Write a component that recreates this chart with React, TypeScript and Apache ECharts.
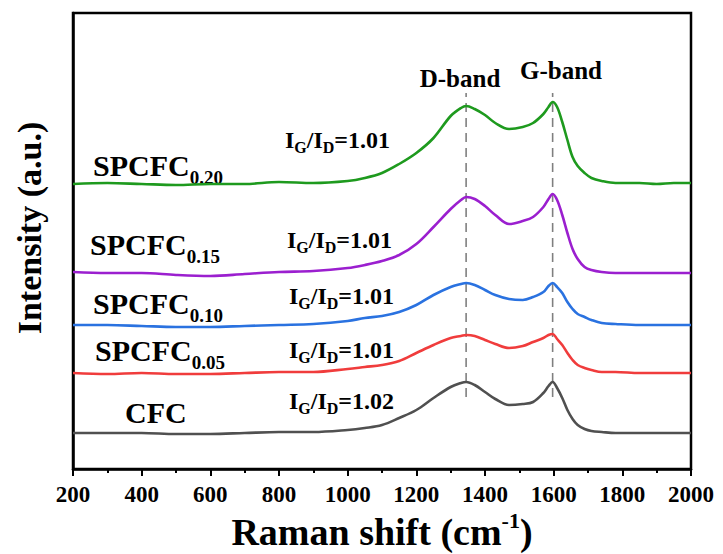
import React, { useEffect, useRef } from "react";
import * as echarts from "echarts";

// ---- data ----
const ramanShift = [
  200, 300, 400, 500, 600, 700, 800, 900, 1000, 1050, 1100, 1150, 1200, 1250, 1300, 1330, 1345, 1370, 1400,
  1430, 1470, 1510, 1540, 1570, 1585, 1597, 1610, 1625, 1640, 1655, 1670, 1690, 1710, 1740, 1780, 1850,
  1900, 1950, 2000,
];
const cfc = [
  36, 36, 36, 35, 35, 36, 37, 37, 39, 41, 44, 51, 59, 71, 82, 86, 87, 84, 77, 70, 64, 65, 67, 76, 83, 87, 81,
  71, 59, 50, 44, 40, 38, 37, 36, 36, 36, 36, 36,
];
const spcfc005 = [
  96, 95, 96, 95, 95, 96, 97, 97, 100, 102, 104, 108, 116, 124, 131, 133, 134, 133, 129, 125, 121, 123, 127,
  131, 134, 135, 130, 124, 116, 109, 104, 101, 99, 97, 97, 96, 96, 96, 96,
];
const spcfc010 = [
  144, 144, 143, 142, 142, 143, 144, 145, 148, 151, 153, 157, 164, 174, 182, 185, 186, 184, 179, 174, 170, 169,
  172, 177, 183, 186, 182, 176, 167, 160, 155, 152, 149, 146, 145, 144, 144, 144, 144,
];
const spcfc015 = [
  197, 196, 196, 194, 193, 195, 197, 198, 201, 204, 208, 214, 225, 242, 260, 269, 272, 270, 263, 254, 245, 248,
  252, 262, 270, 275, 269, 254, 236, 220, 210, 202, 199, 197, 196, 196, 196, 196, 196,
];
const spcfc020 = [
  285, 286, 285, 284, 285, 285, 287, 286, 288, 291, 296, 305, 316, 331, 353, 361, 363, 360, 354, 346, 340, 342,
  346, 355, 362, 367, 362, 347, 329, 312, 303, 296, 291, 288, 286, 286, 285, 286, 286,
];
const seriesValues = [cfc, spcfc005, spcfc010, spcfc015, spcfc020];
const sampleNames = ["CFC", "SPCFC", "SPCFC", "SPCFC", "SPCFC"];
const sampleSubs = ["", "0.05", "0.10", "0.15", "0.20"];
const ratioValues = ["1.02", "1.01", "1.01", "1.01", "1.01"];
const seriesColors = ["#505050", "#f03c3c", "#2a72e0", "#9b1fcf", "#1e9a1e"];
const bandNames = ["D-band", "G-band"];
const bandPositions = [1345, 1597];
const bandLineRange = [72, 376];
const xMin = 200;
const xMax = 2000;
const xInterval = 200;
const yMin = 0;
const yMax = 456;

const FONT = "'Liberation Serif', 'Times New Roman', serif";

let measureCtx: CanvasRenderingContext2D | null = null;
function textWidth(text: string, size: number): number {
  if (!measureCtx) measureCtx = document.createElement("canvas").getContext("2d");
  if (!measureCtx) return text.length * size * 0.5;
  measureCtx.font = `bold ${size}px ${FONT}`;
  return measureCtx.measureText(text).width;
}

type Part = [string, "n" | "s" | "p"];

function partsWidth(parts: Part[], size: number, small: number) {
  return parts.reduce((w, [t, k]) => w + textWidth(t, k === "n" ? size : small), 0);
}

function richText(x: number, y: number, parts: Part[], size: number, small: number, subDy: number, supDy: number) {
  const els: any[] = [];
  let cx = x;
  for (const [t, k] of parts) {
    const fs = k === "n" ? size : small;
    const dy = k === "s" ? subDy : k === "p" ? -supDy : 0;
    els.push({
      type: "text",
      x: cx,
      y: y + dy,
      silent: true,
      style: {
        text: t,
        fontSize: fs,
        fontWeight: "bold",
        fontFamily: FONT,
        fill: "#000",
        align: "left",
        verticalAlign: "middle",
        textAlign: "left",
        textVerticalAlign: "middle",
      },
    });
    cx += textWidth(t, fs);
  }
  return els;
}

// label layout (pixels): [left x, centre y] for sample names and ratio labels, bottom to top
const nameLayout = [
  [125, 412],
  [95, 350],
  [93, 303],
  [90, 244],
  [93, 165],
];
const ratioLayout = [
  [289, 401],
  [289, 350],
  [289, 296],
  [287, 240],
  [285, 140],
];
const bandLayout = [
  [460, 78],
  [561, 70],
];

export default function App() {
  const ref = useRef<HTMLDivElement>(null);
  useEffect(() => {
    document.body.style.margin = "0";
    if (!ref.current) return;
    const chart = echarts.init(ref.current, undefined, { renderer: "svg" });

    const graphic: any[] = [];
    seriesValues.forEach((_, i) => {
      const parts: Part[] = [[sampleNames[i], "n"]];
      if (sampleSubs[i]) parts.push([sampleSubs[i], "s"]);
      graphic.push(...richText(nameLayout[i][0], nameLayout[i][1], parts, 30, 19, 12, 0));
      const rParts: Part[] = [
        ["I", "n"],
        ["G", "s"],
        ["/I", "n"],
        ["D", "s"],
        ["=" + ratioValues[i], "n"],
      ];
      graphic.push(...richText(ratioLayout[i][0], ratioLayout[i][1], rParts, 24, 16, 7, 0));
    });
    bandNames.forEach((b, i) => {
      graphic.push({
        type: "text",
        x: bandLayout[i][0],
        y: bandLayout[i][1],
        silent: true,
        style: {
          text: b,
          fontSize: 25,
          fontWeight: "bold",
          fontFamily: FONT,
          fill: "#000",
          align: "center",
          verticalAlign: "middle",
          textAlign: "center",
          textVerticalAlign: "middle",
        },
      });
    });
    // y axis title
    graphic.push({
      type: "text",
      x: 29,
      y: 228,
      rotation: Math.PI / 2,
      silent: true,
      style: {
        text: "Intensity (a.u.)",
        fontSize: 34,
        fontWeight: "bold",
        fontFamily: FONT,
        fill: "#000",
        align: "center",
        verticalAlign: "middle",
        textAlign: "center",
        textVerticalAlign: "middle",
      },
    });
    // x axis title with superscript
    const xParts: Part[] = [
      ["Raman shift (cm", "n"],
      ["-1", "p"],
      [")", "n"],
    ];
    const xw = partsWidth(xParts, 38, 22);
    graphic.push(...richText(382 - xw / 2, 532, xParts, 38, 22, 0, 12));

    const series: any[] = [];
    bandPositions.forEach((p) => {
      series.push({
        type: "line",
        data: [
          [p, bandLineRange[0]],
          [p, bandLineRange[1]],
        ],
        showSymbol: false,
        silent: true,
        z: 1,
        lineStyle: { color: "#7f7f7f", width: 1.6, type: [9, 6] },
      });
    });
    seriesValues.forEach((vals, i) => {
      series.push({
        type: "line",
        name: sampleNames[i] + sampleSubs[i],
        data: ramanShift.map((x, j) => [x, vals[j]]),
        showSymbol: false,
        smooth: 0.35,
        z: 3,
        lineStyle: { color: seriesColors[i], width: 2.6 },
        itemStyle: { color: seriesColors[i] },
      });
    });

    chart.setOption({
      animation: false,
      backgroundColor: "#ffffff",
      grid: {
        left: 73,
        right: 32,
        top: 13,
        bottom: 85,
        show: true,
        borderColor: "#000",
        borderWidth: 2.5,
        backgroundColor: "transparent",
      },
      xAxis: {
        type: "value",
        min: xMin,
        max: xMax,
        interval: xInterval,
        axisLine: { show: true, onZero: false, lineStyle: { color: "#000", width: 2.5 } },
        axisTick: { show: true, inside: false, length: 7, lineStyle: { color: "#000", width: 2 } },
        minorTick: { show: true, splitNumber: 2, length: 4, lineStyle: { color: "#000", width: 2 } },
        axisLabel: {
          color: "#000",
          fontSize: 23,
          fontWeight: "bold",
          fontFamily: FONT,
          margin: 14,
          formatter: (v: number) => String(v),
        },
        splitLine: { show: false },
        minorSplitLine: { show: false },
      },
      yAxis: {
        type: "value",
        min: yMin,
        max: yMax,
        axisLine: { show: true, lineStyle: { color: "#000", width: 2.5 } },
        axisTick: { show: false },
        axisLabel: { show: false },
        splitLine: { show: false },
      },
      series,
      graphic,
    });
    return () => chart.dispose();
  }, []);
  return <div ref={ref} style={{ width: 723, height: 554 }} />;
}
